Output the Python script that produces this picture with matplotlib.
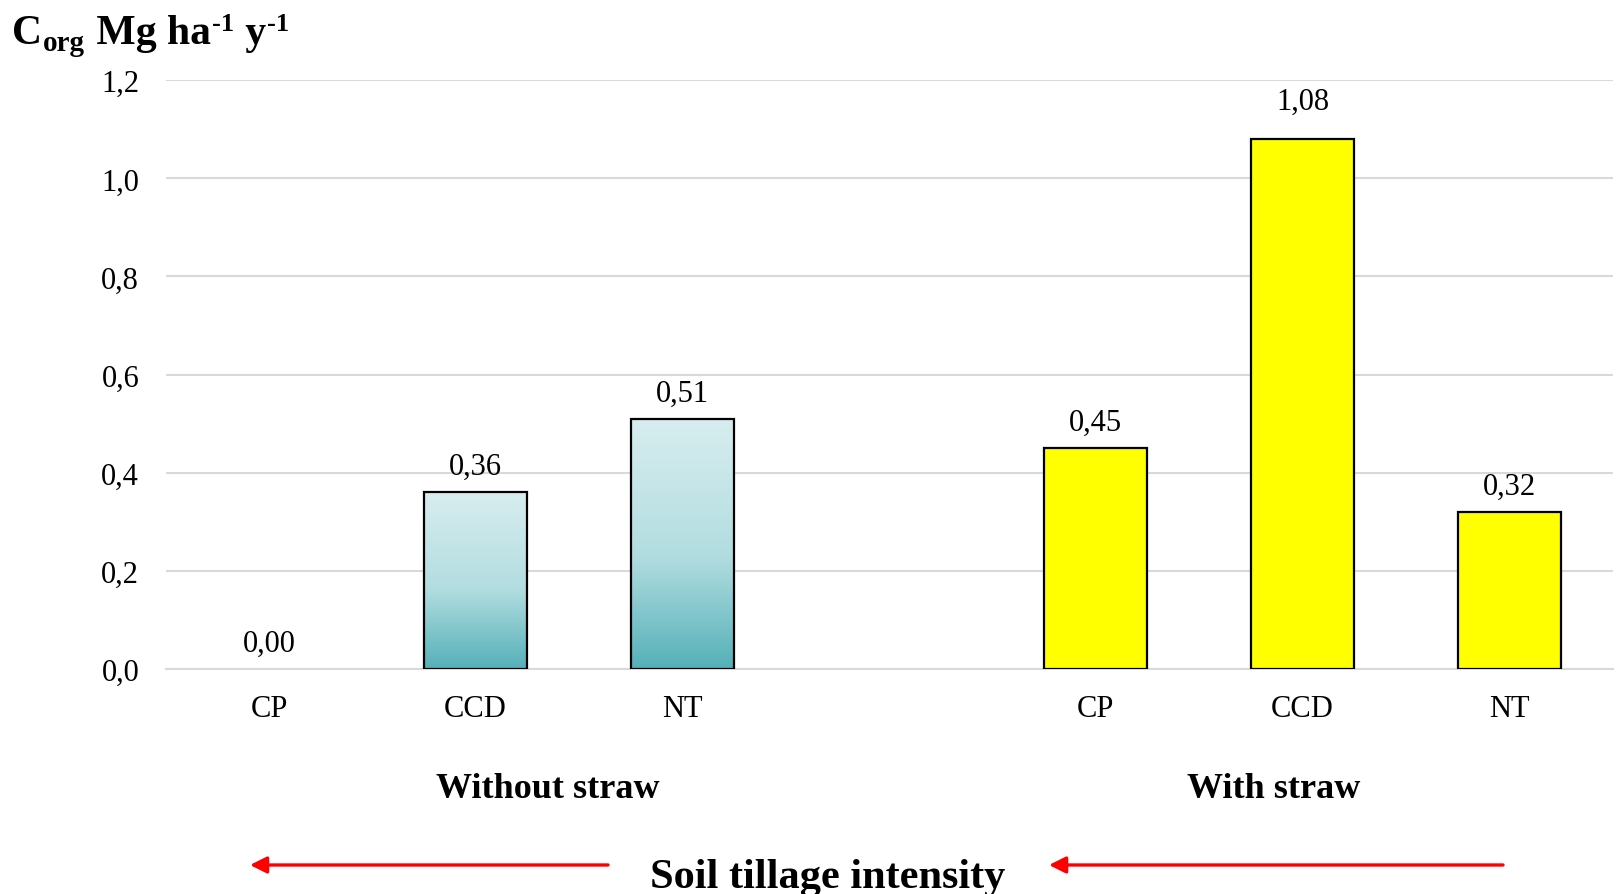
import numpy as np
import matplotlib
matplotlib.use("Agg")
import matplotlib.pyplot as plt
from matplotlib.colors import LinearSegmentedColormap
from matplotlib.patches import FancyArrowPatch
from matplotlib.transforms import IdentityTransform

# Data
categories = ["CP", "CCD", "NT"]
groups = ["Without straw", "With straw"]
without_straw = [0.00, 0.36, 0.51]
with_straw = [0.45, 1.08, 0.32]
y_ticks = [0.0, 0.2, 0.4, 0.6, 0.8, 1.0, 1.2]
y_tick_labels = ["0,0", "0,2", "0,4", "0,6", "0,8", "1,0", "1,2"]

W, H, DPI = 1617, 895, 100
SERIF = "Liberation Serif"

fig = plt.figure(figsize=(W / DPI, H / DPI), dpi=DPI)
ax = fig.add_axes([165.6 / W, 225 / H, 1447 / W, 588.8 / H])

pos_without = np.arange(3)
pos_with = np.arange(3) + 4
bar_w = 0.5

teal = LinearSegmentedColormap.from_list(
    "teal_grad", [(0.0, "#55b0b8"), (0.45, "#b2dde0"), (1.0, "#d8edef")])

# Without straw: gradient-filled bars
bars_a = ax.bar(pos_without, without_straw, width=bar_w, color="none",
                edgecolor="black",
                linewidth=[1.6 if v > 0 else 0 for v in without_straw], zorder=4)
grad = np.linspace(0, 1, 256).reshape(-1, 1)
for b, v in zip(bars_a, without_straw):
    if v <= 0:
        continue
    x0 = b.get_x()
    im = ax.imshow(grad, cmap=teal, origin="lower", aspect="auto",
                   extent=(x0, x0 + b.get_width(), 0, v), zorder=3)
    im.set_clip_path(b)

# With straw: plain yellow bars
bars_b = ax.bar(pos_with, with_straw, width=bar_w, color="#ffff00",
                edgecolor="black", linewidth=1.6, zorder=4)

ax.set_xlim(-0.5, 6.5)
ax.set_ylim(0, 1.2)

# Gridlines and axes styling
ax.set_yticks(y_ticks)
ax.set_yticklabels(y_tick_labels, fontsize=22, family=SERIF)
ax.tick_params(axis="y", length=0, pad=19)
ax.set_xticks([])
ax.grid(axis="y", color="#d9d9d9", linewidth=1.5, zorder=0)
ax.set_axisbelow(True)
for s in ["top", "right", "left"]:
    ax.spines[s].set_visible(False)
ax.spines["bottom"].set_color("#d9d9d9")
ax.spines["bottom"].set_linewidth(1.5)
ax.spines["bottom"].set_zorder(1)

# Value labels (the tallest one sits a little higher, clear of the top gridline)
for positions, vals in ((pos_without, without_straw), (pos_with, with_straw)):
    for x, v in zip(positions, vals):
        off = 21.5 if v > 1.0 else 13
        ax.annotate(f"{v:.2f}".replace(".", ","), (x, v), xytext=(0, off),
                    textcoords="offset points", ha="center", va="baseline",
                    fontsize=22, family=SERIF, zorder=5)

# Category labels under the axis
xt = ax.get_xaxis_transform()
ax_h = 588.8
for positions in (pos_without, pos_with):
    for x, c in zip(positions, categories):
        ax.text(x, -(717 - 670) / ax_h, c, transform=xt, ha="center",
                va="baseline", fontsize=22, family=SERIF)

# Group labels
group_x = [1.35, 4.86]
for gx, g in zip(group_x, groups):
    ax.text(gx, -(798 - 670) / ax_h, g, transform=xt, ha="center",
            va="baseline", fontsize=26, fontweight="bold", family=SERIF)

# Bottom annotation with arrows
fig.text(828 / W, 1 - 888 / H, "Soil tillage intensity", ha="center",
         va="baseline", fontsize=30.5, fontweight="bold", family=SERIF)
for x_start, x_end in ((608, 250), (1503, 1049)):
    arr = FancyArrowPatch((x_start, H - 866), (x_end, H - 866),
                          transform=IdentityTransform(),
                          arrowstyle="-|>,head_length=10,head_width=5",
                          color="#ff0000", linewidth=2.4,
                          shrinkA=0, shrinkB=0, mutation_scale=1)
    fig.patches.append(arr)

# Axis title with sub/superscripts
fig.canvas.draw()
renderer = fig.canvas.get_renderer()
x_cursor = 12.0
base = H - 44
parts = [("C", 30, 0), ("org", 21, -7), (" Mg ha", 30, 0), ("-1", 19, 13),
         (" y", 30, 0), ("-1", 19, 13)]
for s, size, dy in parts:
    t = fig.text(x_cursor, base + dy, s, transform=IdentityTransform(),
                 fontsize=size, fontweight="bold", family=SERIF,
                 ha="left", va="baseline")
    bb = t.get_window_extent(renderer)
    x_cursor = bb.x1 + 1

fig.savefig("out.png", dpi=DPI)
